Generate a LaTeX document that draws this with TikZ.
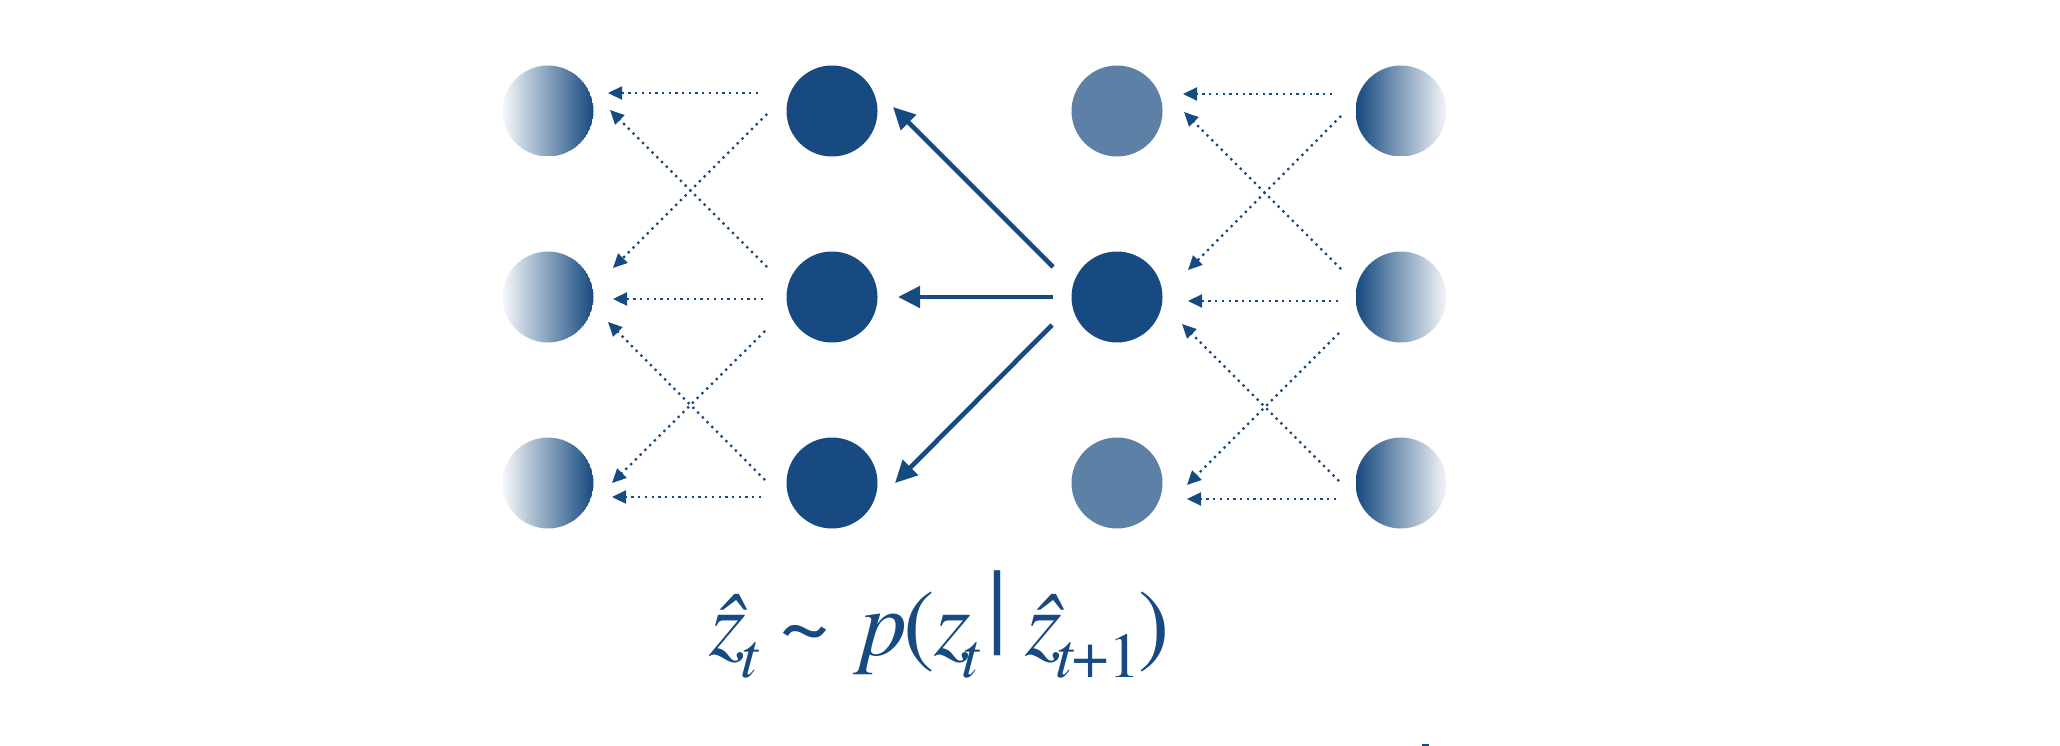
\documentclass[tikz,border=0pt]{standalone}
\usepackage[T1,TU]{fontenc}
\usepackage{graphicx}
\usetikzlibrary{arrows.meta,calc}
\definecolor{dkblue}{RGB}{22,74,128}
\newcommand{\tms}{\fontencoding{T1}\fontfamily{ptm}\selectfont}
\newcommand{\mysub}[1]{\raisebox{-22pt}{\fontsize{64}{64}\selectfont #1}}
\newcommand{\mybar}{\raisebox{2.3pt}{\resizebox*{16pt}{84pt}{\bfseries |}}}
\tikzset{
  circ/.style={circle, minimum size=91pt, inner sep=0pt, draw=none},
  solidnode/.style={circ, fill=dkblue},
  fadenode/.style={circ, fill=dkblue!70},
  gradL/.style={circ, path picture={
    \foreach \i in {0,...,45}{
      \pgfmathsetmacro\pct{5+95*\i/45}
      \fill[dkblue!\pct] ($(path picture bounding box.south west)+(2*\i,0)$) rectangle ++(2.4pt,100pt);
    }}},
  gradR/.style={circ, path picture={
    \foreach \i in {0,...,45}{
      \pgfmathsetmacro\pct{100-95*\i/45}
      \fill[dkblue!\pct] ($(path picture bounding box.south west)+(2*\i,0)$) rectangle ++(2.4pt,100pt);
    }}},
  dotarr/.style={draw=dkblue, line width=2.3pt,
    dash pattern=on 2.3pt off 4.4pt, -{Triangle[length=14pt,width=13pt]}},
  solidarr/.style={draw=dkblue, line width=4.6pt,
    -{Triangle[length=22pt,width=21pt]}}
}
\begin{document}
\begin{tikzpicture}[x=1pt,y=-1pt]
\useasboundingbox (0,0) rectangle (2060,746);
% columns
\node[gradL] (a1) at (548,111) {};
\node[gradL] (a2) at (548,297) {};
\node[gradL] (a3) at (548,483) {};
\node[solidnode] (b1) at (832,111) {};
\node[solidnode] (b2) at (832,297) {};
\node[solidnode] (b3) at (832,483) {};
\node[fadenode] (c1) at (1117,111) {};
\node[solidnode] (c2) at (1117,297) {};
\node[fadenode] (c3) at (1117,483) {};
\node[gradR] (d1) at (1401,111) {};
\node[gradR] (d2) at (1401,297) {};
\node[gradR] (d3) at (1401,483) {};
% left dotted arrows
\draw[dotarr] ($(b1)+(-74,-18)$) -- ($(a1)+(60,-18)$);
\draw[dotarr] ($(b1)+(-65,3)$) -- ($(a2)+(65,-29)$);
\draw[dotarr] ($(b2)+(-65,-30)$) -- ($(a1)+(62,-1)$);
\draw[dotarr] ($(b2)+(-69,2)$) -- ($(a2)+(65,2)$);
\draw[dotarr] ($(b2)+(-67,34)$) -- ($(a3)+(64,0)$);
\draw[dotarr] ($(b3)+(-67,-3)$) -- ($(a2)+(60,25)$);
\draw[dotarr] ($(b3)+(-71,14)$) -- ($(a3)+(64,14)$);
% right dotted arrows
\draw[dotarr] ($(d1)+(-69,-17)$) -- ($(c1)+(66,-17)$);
\draw[dotarr] ($(d1)+(-60,5)$) -- ($(c2)+(71,-27)$);
\draw[dotarr] ($(d2)+(-60,-28)$) -- ($(c1)+(67,1)$);
\draw[dotarr] ($(d2)+(-63,4)$) -- ($(c2)+(71,4)$);
\draw[dotarr] ($(d2)+(-62,36)$) -- ($(c3)+(70,2)$);
\draw[dotarr] ($(d3)+(-62,-2)$) -- ($(c2)+(65,27)$);
\draw[dotarr] ($(d3)+(-65,16)$) -- ($(c3)+(70,16)$);
% solid arrows
\draw[solidarr] ($(c2)+(-64,-30)$) -- ($(b1)+(61,-4)$);
\draw[solidarr] ($(c2)+(-64,0)$) -- ($(b2)+(66,0)$);
\draw[solidarr] ($(c2)+(-65,28)$) -- ($(b3)+(63,0)$);
% formula
\node[anchor=base west, text=dkblue, inner sep=0pt] (eq) at (709,655.5)
  {\tms\fontsize{94}{100}\selectfont
   {\itshape\^z}\kern-5.6pt\mysub{\itshape t}\kern21.7pt\textasciitilde\kern30pt{\itshape p}\kern-3.6pt(\kern-1.1pt{\itshape z}\kern-9pt\mysub{\itshape t}\kern10.1pt\mybar\kern20.1pt{\itshape\^z}\kern-7.2pt\mysub{{\itshape t}+1}\kern-2.8pt)};
% small mark
\fill[dkblue] (1422,744) rectangle (1429,746);
\end{tikzpicture}
\end{document}
